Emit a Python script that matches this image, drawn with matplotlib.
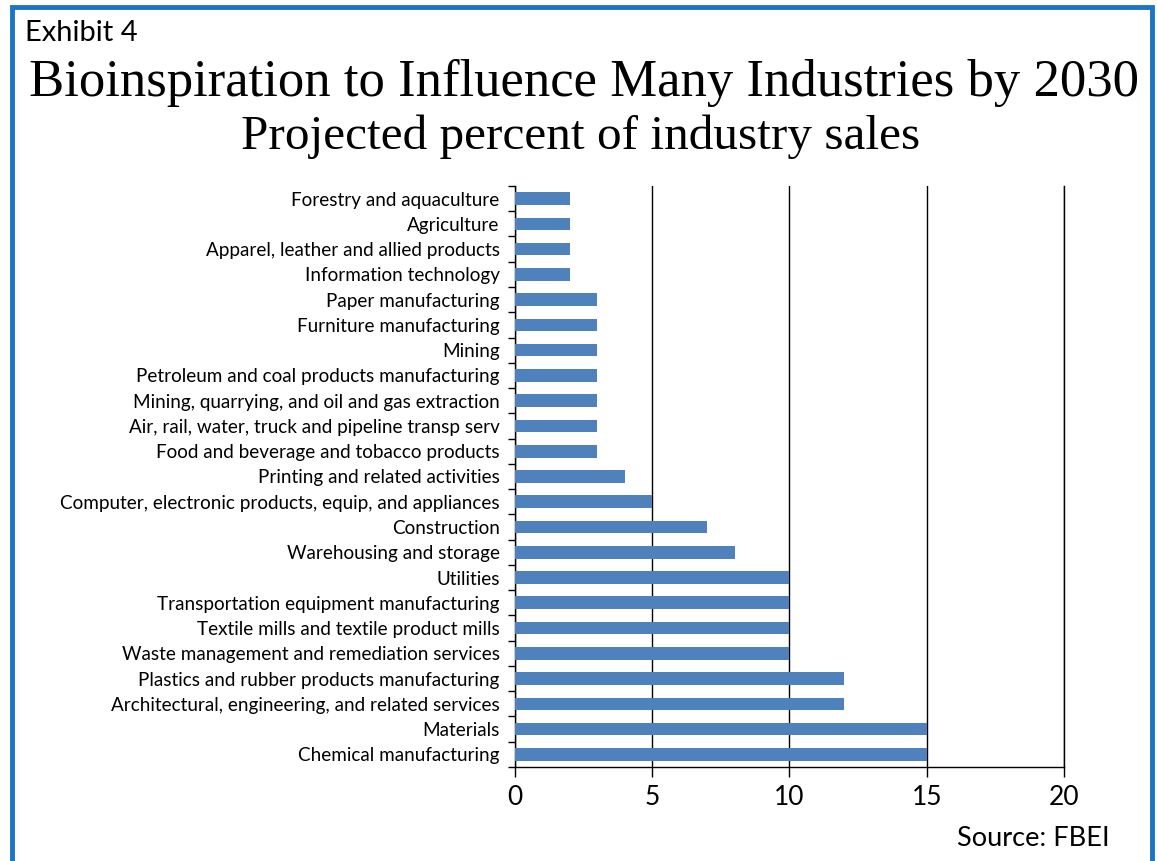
import numpy as np
import matplotlib
matplotlib.use("Agg")
from matplotlib import pyplot as plt
from matplotlib.patches import Rectangle

categories = [
    "Forestry and aquaculture",
    "Agriculture",
    "Apparel, leather and allied products",
    "Information technology",
    "Paper manufacturing",
    "Furniture manufacturing",
    "Mining",
    "Petroleum and coal products manufacturing",
    "Mining, quarrying, and oil and gas extraction",
    "Air, rail, water, truck and pipeline transp serv",
    "Food and beverage and tobacco products",
    "Printing and related activities",
    "Computer, electronic products, equip, and appliances",
    "Construction",
    "Warehousing and storage",
    "Utilities",
    "Transportation equipment manufacturing",
    "Textile mills and textile product mills",
    "Waste management and remediation services",
    "Plastics and rubber products manufacturing",
    "Architectural, engineering, and related services",
    "Materials",
    "Chemical manufacturing",
]
values = [2, 2, 2, 2, 3, 3, 3, 3, 3, 3, 3, 4, 5, 7, 8, 10, 10, 10, 10, 12, 12, 15, 15]
xticks = [0, 5, 10, 15, 20]

sans = ["Lato", "DejaVu Sans"]
serif = ["Liberation Serif", "DejaVu Serif"]

fig = plt.figure(figsize=(11.57, 8.61), dpi=100)
ax = fig.add_axes([0.4451, 0.1092, 0.4745, 0.6748])

y = np.arange(len(categories))
ax.barh(y, values, height=0.5, color="#4F81BD", zorder=3)
ax.set_ylim(len(categories) - 0.5, -0.5)
ax.set_xlim(0, 20)

ax.set_yticks(y)
ax.set_yticklabels(categories, fontsize=13.6, family=sans)
ax.set_yticks(np.arange(len(categories) + 1) - 0.5, minor=True)
ax.tick_params(axis="y", which="major", length=0, pad=11)
ax.tick_params(axis="y", which="minor", length=5, width=1)

ax.set_xticks(xticks)
ax.set_xticklabels([str(t) for t in xticks], fontsize=19, family=sans)
ax.tick_params(axis="x", length=7, width=1, pad=6)

ax.xaxis.grid(True, color="black", linewidth=1, zorder=0)
ax.spines["top"].set_visible(False)
for s in ["left", "bottom", "right"]:
    ax.spines[s].set_linewidth(1)

fig.text(25 / 1157, 1 - 33 / 861, "Exhibit 4", fontsize=21, family=sans, va="center")
fig.text(0.505, 1 - 83 / 861, "Bioinspiration to Influence Many Industries by 2030",
         fontsize=38, family=serif, ha="center", va="center")
fig.text(0.502, 1 - 137 / 861, "Projected percent of industry sales",
         fontsize=35.5, family=serif, ha="center", va="center")
fig.text(1110 / 1157, 1 - 838 / 861, "Source: FBEI", fontsize=19.5, family=sans,
         ha="right", va="center")

border = Rectangle((12 / 1157, -0.05), 1140 / 1157, 1.05 - 7 / 861, transform=fig.transFigure,
                   fill=False, edgecolor="#1B75C4", linewidth=3.5)
fig.patches.append(border)

fig.savefig("out.png", dpi=100)
